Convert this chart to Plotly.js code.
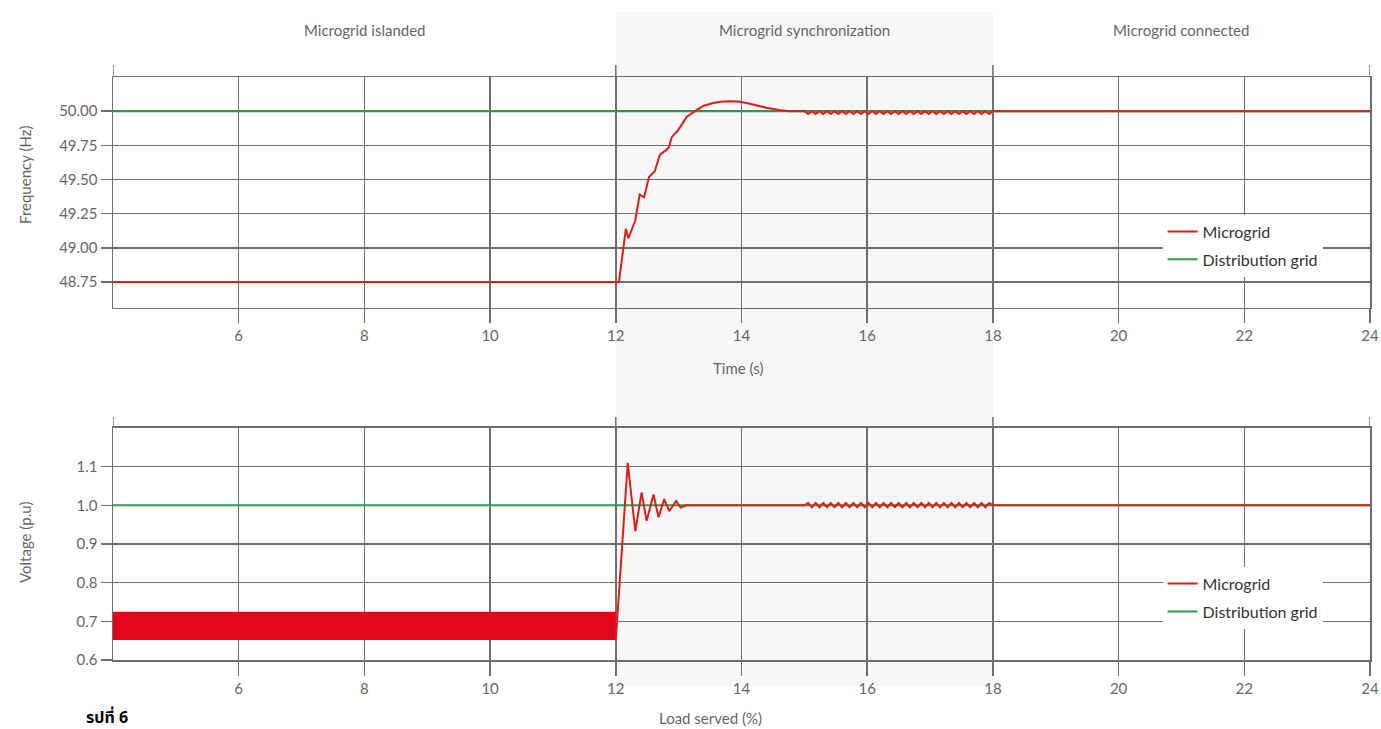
<!DOCTYPE html>
<html>
<head>
<meta charset="utf-8">
<script src="https://cdn.plot.ly/plotly-3.0.1.min.js"></script>
<style>html,body{margin:0;padding:0;background:#fff;}#chart{width:1381px;height:729px;}</style>
</head>
<body>
<div id="chart"></div>
<script>
// ---- data ----
const sectionNames = ["Microgrid islanded", "Microgrid synchronization", "Microgrid connected"];
const sectionCenters = [8, 15, 21];
const sectionBounds = [4, 12, 18, 24];

const xTicks = [6, 8, 10, 12, 14, 16, 18, 20, 22, 24];
const freqTicks = [48.75, 49.00, 49.25, 49.50, 49.75, 50.00];
const freqTickText = ["48.75", "49.00", "49.25", "49.50", "49.75", "50.00"];
const voltTicks = [0.6, 0.7, 0.8, 0.9, 1.0, 1.1];
const voltTickText = ["0.6", "0.7", "0.8", "0.9", "1.0", "1.1"];

// distribution grid (constant reference)
const gridTime = [4, 24];
const gridFreq = [50.0, 50.0];
const gridVolt = [1.0, 1.0];

// microgrid frequency: islanded level, resynchronisation rise, overshoot
const freqRiseTime = [4, 12.05, 12.16, 12.20, 12.31, 12.38, 12.45, 12.53, 12.62, 12.70, 12.84, 12.89, 12.99, 13.13, 13.29, 13.40, 13.55, 13.70, 13.82, 13.95, 14.08, 14.25, 14.40, 14.60, 14.77];
const freqRiseVal  = [48.75, 48.75, 49.14, 49.07, 49.20, 49.39, 49.37, 49.52, 49.56, 49.68, 49.73, 49.81, 49.86, 49.96, 50.01, 50.04, 50.06, 50.07, 50.072, 50.07, 50.06, 50.04, 50.025, 50.008, 50.0];

// small ripple during synchronisation (15 s - 18 s)
const rippleTime = [15.00, 15.06, 15.12, 15.18, 15.24, 15.30, 15.36, 15.42, 15.48, 15.54,
                    15.60, 15.66, 15.72, 15.78, 15.84, 15.90, 15.96, 16.02, 16.08, 16.14,
                    16.20, 16.26, 16.32, 16.38, 16.44, 16.50, 16.56, 16.62, 16.68, 16.74,
                    16.80, 16.86, 16.92, 16.98, 17.04, 17.10, 17.16, 17.22, 17.28, 17.34,
                    17.40, 17.46, 17.52, 17.58, 17.64, 17.70, 17.76, 17.82, 17.88, 17.94,
                    18.00];
const freqRippleVal = [50.00, 49.98, 50.00, 49.98, 50.00, 49.98, 50.00, 49.98, 50.00, 49.98,
                       50.00, 49.98, 50.00, 49.98, 50.00, 49.98, 50.00, 49.98, 50.00, 49.98,
                       50.00, 49.98, 50.00, 49.98, 50.00, 49.98, 50.00, 49.98, 50.00, 49.98,
                       50.00, 49.98, 50.00, 49.98, 50.00, 49.98, 50.00, 49.98, 50.00, 49.98,
                       50.00, 49.98, 50.00, 49.98, 50.00, 49.98, 50.00, 49.98, 50.00, 49.98,
                       50.00];
const connectedTime = [24];
const freqConnected = [50.0];

// microgrid voltage: islanded band (dense oscillation envelope)
const bandTime = [4, 12];
const bandHigh = [0.725, 0.725];
const bandLow  = [0.652, 0.652];

// microgrid voltage: step and damped oscillation
const voltRiseTime = [12.0, 12.19, 12.31, 12.41, 12.49, 12.60, 12.68, 12.77, 12.85, 12.96, 13.03, 13.12];
const voltRiseVal  = [0.652, 1.11, 0.933, 1.033, 0.96, 1.028, 0.969, 1.016, 0.985, 1.011, 0.994, 1.0];
const voltRippleVal = [1.000, 1.006, 0.995, 1.006, 0.995, 1.006, 0.995, 1.006, 0.995, 1.006,
                       0.995, 1.006, 0.995, 1.006, 0.995, 1.006, 0.995, 1.006, 0.995, 1.006,
                       0.995, 1.006, 0.995, 1.006, 0.995, 1.006, 0.995, 1.006, 0.995, 1.006,
                       0.995, 1.006, 0.995, 1.006, 0.995, 1.006, 0.995, 1.006, 0.995, 1.006,
                       0.995, 1.006, 0.995, 1.006, 0.995, 1.006, 0.995, 1.006, 0.995, 1.006,
                       1.000];
const voltConnected = [1.0];

// ---- styling ----
const RED = "#dd1f1a";
const BAND_RED = "#e2071b";
const GREEN = "#2f9a4f";
const GRID = "#6e6e6e";
const TXT = "#666666";
const FONT = "Lato, 'Open Sans', sans-serif";

const traces = [
  {x: gridTime, y: gridFreq, xaxis: "x", yaxis: "y", mode: "lines", name: "Distribution grid",
   line: {color: GREEN, width: 2}, legend: "legend", legendrank: 2, legendgroup: "g1"},
  {x: freqRiseTime.concat(rippleTime, connectedTime), y: freqRiseVal.concat(freqRippleVal, freqConnected),
   xaxis: "x", yaxis: "y", mode: "lines", name: "Microgrid",
   line: {color: RED, width: 2}, legend: "legend", legendrank: 1, legendgroup: "g0"},

  {x: gridTime, y: gridVolt, xaxis: "x2", yaxis: "y2", mode: "lines", name: "Distribution grid",
   line: {color: GREEN, width: 2}, legend: "legend2", legendrank: 2, legendgroup: "h1"},
  {x: bandTime, y: bandLow, xaxis: "x2", yaxis: "y2", mode: "lines", showlegend: false,
   line: {color: BAND_RED, width: 0}, hoverinfo: "skip"},
  {x: bandTime, y: bandHigh, xaxis: "x2", yaxis: "y2", mode: "lines", showlegend: false,
   fill: "tonexty", fillcolor: BAND_RED, line: {color: BAND_RED, width: 0}},
  {x: voltRiseTime.concat(rippleTime, connectedTime), y: voltRiseVal.concat(voltRippleVal, voltConnected),
   xaxis: "x2", yaxis: "y2", mode: "lines", name: "Microgrid",
   line: {color: RED, width: 2}, legend: "legend2", legendrank: 1, legendgroup: "h0"}
];

// geometry helpers (paper coords)
const TOP_DOM = [0.6038, 1];
const BOT_DOM = [0, 0.398];

const xBase = {
  range: [4, 24], tickvals: xTicks, ticktext: xTicks.map(String),
  showgrid: true, gridcolor: GRID, gridwidth: 1.5,
  showline: true, mirror: true, linecolor: GRID, linewidth: 1.5,
  ticks: "outside", ticklen: 14, tickcolor: GRID, tickwidth: 1.5,
  tickfont: {family: FONT, size: 15, color: TXT},
  zeroline: false, fixedrange: true
};
const yBase = {
  showgrid: true, gridcolor: GRID, gridwidth: 1.5,
  showline: true, mirror: true, linecolor: GRID, linewidth: 1.5,
  ticks: "outside", ticklen: 11, tickcolor: GRID, tickwidth: 1.5,
  tickfont: {family: FONT, size: 15, color: TXT},
  zeroline: false, fixedrange: true
};

const shapes = [
  {type: "rect", xref: "x", yref: "paper", x0: 12, x1: 18, y0: -0.045, y1: 1.1115,
   fillcolor: "#f7f7f7", line: {width: 0}, layer: "below"}
];
sectionBounds.forEach(b => {
  shapes.push({type: "line", xref: "x", yref: "paper", x0: b, x1: b, y0: TOP_DOM[1], y1: TOP_DOM[1] + 0.0206,
               line: {color: GRID, width: 1.5}});
  shapes.push({type: "line", xref: "x", yref: "paper", x0: b, x1: b, y0: BOT_DOM[1], y1: BOT_DOM[1] + 0.0189,
               line: {color: GRID, width: 1.5}});
});

const annotations = sectionNames.map((s, i) => ({
  text: s, xref: "x", yref: "paper", x: sectionCenters[i], y: 1.0806,
  showarrow: false, xanchor: "center", yanchor: "middle",
  font: {family: FONT, size: 15, color: TXT}
}));
annotations.push(
  {text: "Time (s)", xref: "paper", yref: "paper", x: 0.4972, y: 0.5009, showarrow: false,
   xanchor: "center", yanchor: "middle", font: {family: FONT, size: 15, color: TXT}},
  {text: "Load served (%)", xref: "paper", yref: "paper", x: 0.475, y: -0.0995, showarrow: false,
   xanchor: "center", yanchor: "middle", font: {family: FONT, size: 15, color: TXT}},
  {text: "Frequency (Hz)", xref: "paper", yref: "paper", x: -0.07, y: 0.832, textangle: -90, showarrow: false,
   xanchor: "center", yanchor: "middle", font: {family: FONT, size: 15, color: TXT}},
  {text: "Voltage (p.u)", xref: "paper", yref: "paper", x: -0.07, y: 0.2007, textangle: -90, showarrow: false,
   xanchor: "center", yanchor: "middle", font: {family: FONT, size: 15, color: TXT}},
  {text: "<b>รปที่ 6</b>", xref: "paper", yref: "paper", x: -0.0045, y: -0.0995, showarrow: false,
   xanchor: "center", yanchor: "middle", font: {family: "'Noto Sans Thai', 'Noto Sans', 'DejaVu Sans', sans-serif", size: 16, color: "#000"}}
);

const legendBase = {
  bgcolor: "#ffffff", borderwidth: 0, traceorder: "grouped", tracegroupgap: 4,
  font: {family: FONT, size: 16, color: "#333333"}, xanchor: "left", yanchor: "top"
};

const layout = {
  width: 1381, height: 729,
  margin: {l: 113, r: 11, t: 77, b: 69},
  paper_bgcolor: "#ffffff", plot_bgcolor: "rgba(0,0,0,0)",
  showlegend: true,
  xaxis: Object.assign({}, xBase, {anchor: "y", domain: [0, 1]}),
  yaxis: Object.assign({}, yBase, {anchor: "x", domain: TOP_DOM, range: [48.56, 50.25],
                                   tickvals: freqTicks, ticktext: freqTickText}),
  xaxis2: Object.assign({}, xBase, {anchor: "y2", domain: [0, 1]}),
  yaxis2: Object.assign({}, yBase, {anchor: "x2", domain: BOT_DOM, range: [0.6, 1.2],
                                    tickvals: voltTicks, ticktext: voltTickText}),
  legend: Object.assign({}, legendBase, {x: 0.835, y: 0.764}),
  legend2: Object.assign({}, legendBase, {x: 0.835, y: 0.16}),
  shapes: shapes,
  annotations: annotations
};

Plotly.newPlot("chart", traces, layout, {staticPlot: true, displayModeBar: false});
</script>
</body>
</html>
